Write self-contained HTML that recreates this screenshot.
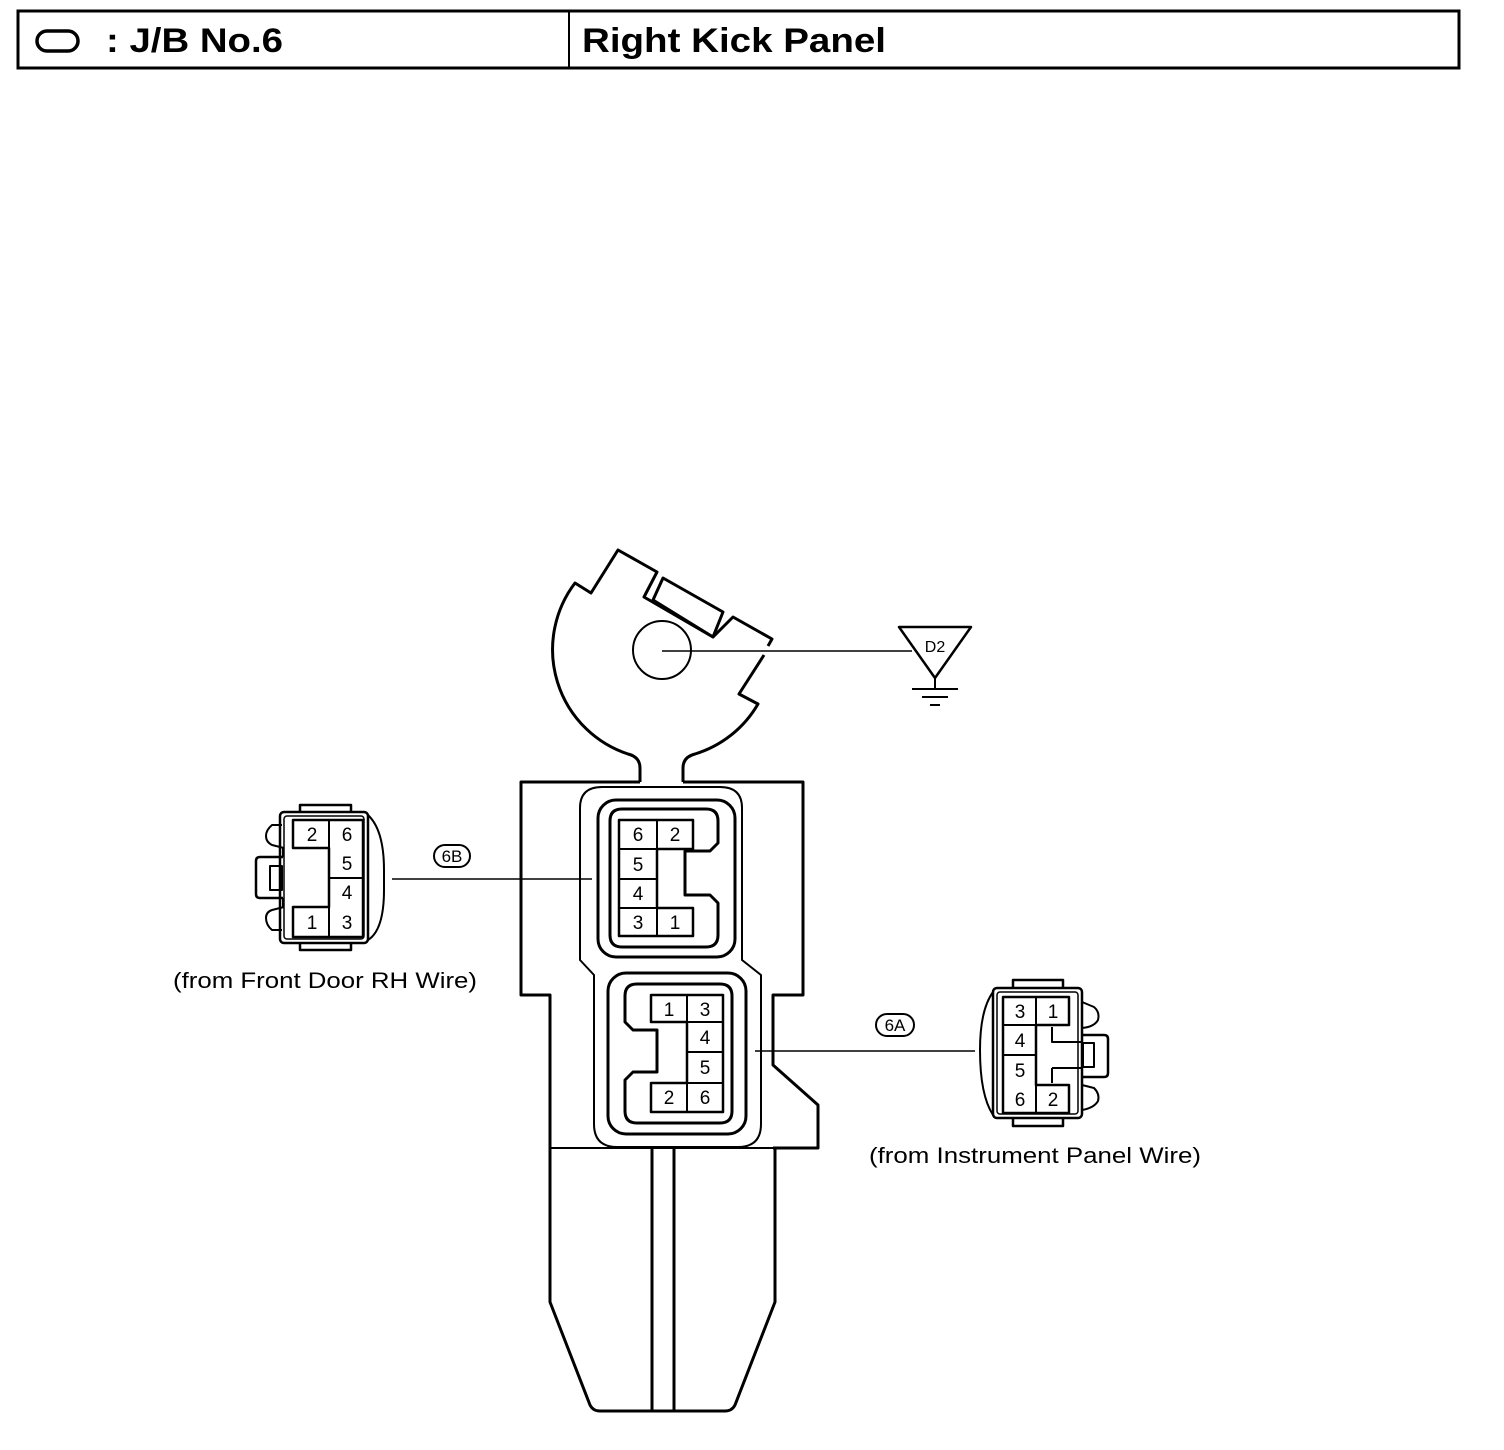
<!DOCTYPE html>
<html><head><meta charset="utf-8"><style>
html,body{margin:0;padding:0;background:#fff;}
svg{display:block;}
text{font-family:"Liberation Sans",Arial,sans-serif;fill:#000;}
</style></head><body>
<svg width="1504" height="1450" viewBox="0 0 1504 1450" xmlns="http://www.w3.org/2000/svg">
<!-- header -->
<rect x="18" y="11" width="1441" height="57" fill="none" stroke="#000" stroke-width="3"/>
<line x1="569" y1="11" x2="569" y2="68" stroke="#000" stroke-width="2"/>
<rect x="37" y="31" width="41" height="20" rx="10" fill="none" stroke="#000" stroke-width="3.5"/>
<text x="106" y="52" font-size="34" font-weight="bold" textLength="177" lengthAdjust="spacingAndGlyphs">: J/B No.6</text>
<text x="582" y="52" font-size="34" font-weight="bold" textLength="304" lengthAdjust="spacingAndGlyphs">Right Kick Panel</text>

<g fill="none" stroke="#000" stroke-linejoin="round">
<!-- top bracket -->
<path d="M640,782 L640,768 Q640,757 628,754 A110 110 0 0 1 575,583 L591,593 L618,550 L657,572 L644,597 L713,637 L733,617 L772,639 L768,646" stroke-width="3"/>
<path d="M764,655 L739,694 L758,704 A110 110 0 0 1 695,754 Q683,757 683,768 L683,782" stroke-width="3"/>
<polygon points="663,578 723,612 713,637 653,600" stroke-width="3"/>
<circle cx="662" cy="650" r="29" stroke-width="2"/>
<line x1="662" y1="651" x2="912" y2="651" stroke-width="1.5"/>
<polygon points="899,627 971,627 935,678" stroke-width="2.5"/>
<line x1="935" y1="678" x2="935" y2="689" stroke-width="2"/>
<line x1="912" y1="689" x2="958" y2="689" stroke-width="2"/>
<line x1="922" y1="697" x2="948" y2="697" stroke-width="2"/>
<line x1="930" y1="705" x2="940" y2="705" stroke-width="2"/>

<!-- main body -->
<path d="M640,782 L521,782 L521,995 L550,995 L550,1302 L590,1405 Q593,1411 600,1411 L725,1411 Q732,1411 735,1405 L775,1302 L775,1148" stroke-width="3"/>
<path d="M683,782 L803,782 L803,995 L773,995 L773,1065 L818,1105 L818,1148 L773,1148" stroke-width="3"/>
<line x1="550" y1="1148" x2="775" y2="1148" stroke-width="2"/>
<line x1="652" y1="1148" x2="652" y2="1411" stroke-width="3"/>
<line x1="674" y1="1148" x2="674" y2="1411" stroke-width="3"/>
<!-- thin outline -->
<path d="M580,960 L580,808 Q580,787 602,787 L720,787 Q742,787 742,808 L742,960 L761,975 L761,1124 Q761,1147 738,1147 L617,1147 Q594,1147 594,1124 L594,975 Z" stroke-width="2"/>

<!-- upper connector -->
<rect x="598" y="800" width="137" height="157" rx="18" stroke-width="3"/>
<path d="M630,809 L706,809 Q718,809 718,821 L718,843 L710,851 L685,851 L685,895 L710,895 L718,903 L718,935 Q718,947 706,947 L622,947 Q610,947 610,935 L610,821 Q610,809 622,809 Z" stroke-width="3"/>
<path d="M619,820 L693,820 L693,849 L657,849 L657,908 L693,908 L693,936 L619,936 Z" stroke-width="2.5"/>
<line x1="657" y1="820" x2="657" y2="936" stroke-width="2"/>
<line x1="619" y1="849" x2="657" y2="849" stroke-width="2"/>
<line x1="619" y1="879" x2="657" y2="879" stroke-width="2"/>
<line x1="619" y1="908" x2="657" y2="908" stroke-width="2"/>

<!-- lower connector -->
<rect x="608" y="973" width="138" height="161" rx="18" stroke-width="3"/>
<path d="M637,984 L720,984 Q732,984 732,996 L732,1111 Q732,1123 720,1123 L637,1123 Q625,1123 625,1111 L625,1080 L633,1072 L657,1072 L657,1030 L633,1030 L625,1022 L625,996 Q625,984 637,984 Z" stroke-width="3"/>
<path d="M651,995 L723,995 L723,1112 L651,1112 L651,1083 L687,1083 L687,1022 L651,1022 Z" stroke-width="2.5"/>
<line x1="687" y1="995" x2="687" y2="1112" stroke-width="2"/>
<line x1="687" y1="1052" x2="723" y2="1052" stroke-width="2"/>
<line x1="687" y1="1083" x2="723" y2="1083" stroke-width="2"/>
<line x1="687" y1="1022" x2="723" y2="1022" stroke-width="2"/>

<!-- left connector (6B) -->
<path d="M300,812 L300,805 L351,805 L351,812" stroke-width="2.5"/>
<path d="M300,943 L300,950 L351,950 L351,943" stroke-width="2.5"/>
<rect x="280" y="812" width="88" height="131" rx="4" stroke-width="2.5"/>
<rect x="284" y="816" width="80" height="123" rx="3" stroke-width="1.5"/>
<path d="M368,815 Q384,830 384,870 L384,890 Q384,930 368,940" stroke-width="2"/>
<path d="M293,820 L363,820 L363,937 L293,937 L293,907 L329,907 L329,848 L293,848 Z" stroke-width="2.5"/>
<line x1="329" y1="820" x2="329" y2="937" stroke-width="2"/>
<line x1="329" y1="878" x2="363" y2="878" stroke-width="2"/>
<path d="M283,857 L260,857 Q256,857 256,861 L256,894 Q256,898 260,898 L283,898" stroke-width="2.5"/>
<rect x="270" y="866" width="12" height="24" stroke-width="2"/>
<path d="M283,848 L283,857 M283,898 L283,907" stroke-width="2"/>
<path d="M282,825 L272,825 Q266,830 266,836 Q266,842 272,845 L284,848" stroke-width="2"/>
<path d="M282,930 L272,930 Q266,925 266,918 Q266,912 272,910 L284,907" stroke-width="2"/>
<line x1="392" y1="879" x2="592" y2="879" stroke-width="1.5"/>
<rect x="434" y="845" width="36" height="22" rx="11" stroke-width="2"/>

<!-- right connector (6A) -->
<path d="M1013,988 L1013,980 L1063,980 L1063,988" stroke-width="2.5"/>
<path d="M1013,1118 L1013,1126 L1063,1126 L1063,1118" stroke-width="2.5"/>
<rect x="993" y="988" width="89" height="130" rx="4" stroke-width="2.5"/>
<rect x="997" y="992" width="81" height="122" rx="3" stroke-width="1.5"/>
<path d="M993,992 Q980,1010 980,1050 Q980,1095 993,1115" stroke-width="2"/>
<path d="M1003,997 L1069,997 L1069,1025 L1036,1025 L1036,1085 L1069,1085 L1069,1113 L1003,1113 Z" stroke-width="2.5"/>
<line x1="1036" y1="997" x2="1036" y2="1113" stroke-width="2"/>
<line x1="1003" y1="1025" x2="1036" y2="1025" stroke-width="2"/>
<line x1="1003" y1="1055" x2="1036" y2="1055" stroke-width="2"/>
<path d="M1052,1027 L1052,1042 L1082,1042 M1052,1068 L1052,1083 M1052,1068 L1082,1068" stroke-width="2"/>
<path d="M1082,1035 L1104,1035 Q1108,1035 1108,1039 L1108,1073 Q1108,1077 1104,1077 L1082,1077" stroke-width="2.5"/>
<rect x="1083" y="1043" width="11" height="24" stroke-width="2"/>
<path d="M1082,1002 L1094,1007 Q1100,1012 1098,1020 Q1094,1027 1082,1028" stroke-width="2"/>
<path d="M1082,1085 L1094,1088 Q1100,1094 1098,1101 Q1094,1108 1082,1110" stroke-width="2"/>
<line x1="755" y1="1051" x2="975" y2="1051" stroke-width="1.5"/>
<rect x="876" y="1014" width="38" height="22" rx="11" stroke-width="2"/>
</g>

<!-- labels -->
<text x="935" y="652" font-size="16" text-anchor="middle">D2</text>
<text x="452" y="862" font-size="17" text-anchor="middle">6B</text>
<text x="895" y="1031" font-size="17" text-anchor="middle">6A</text>
<g font-size="19" text-anchor="middle">
<text x="638" y="841">6</text><text x="675" y="841">2</text>
<text x="638" y="871">5</text><text x="638" y="900">4</text>
<text x="638" y="929">3</text><text x="675" y="929">1</text>
<text x="669" y="1016">1</text><text x="705" y="1016">3</text>
<text x="705" y="1044">4</text><text x="705" y="1074">5</text>
<text x="669" y="1104">2</text><text x="705" y="1104">6</text>
<text x="312" y="841">2</text><text x="347" y="841">6</text>
<text x="347" y="870">5</text><text x="347" y="899">4</text>
<text x="312" y="929">1</text><text x="347" y="929">3</text>
<text x="1020" y="1018">3</text><text x="1053" y="1018">1</text>
<text x="1020" y="1047">4</text><text x="1020" y="1077">5</text>
<text x="1020" y="1106">6</text><text x="1053" y="1106">2</text>
</g>
<text x="173" y="988" font-size="22" textLength="304" lengthAdjust="spacingAndGlyphs">(from Front Door RH Wire)</text>
<text x="869" y="1163" font-size="22" textLength="332" lengthAdjust="spacingAndGlyphs">(from Instrument Panel Wire)</text>
</svg>
</body></html>
